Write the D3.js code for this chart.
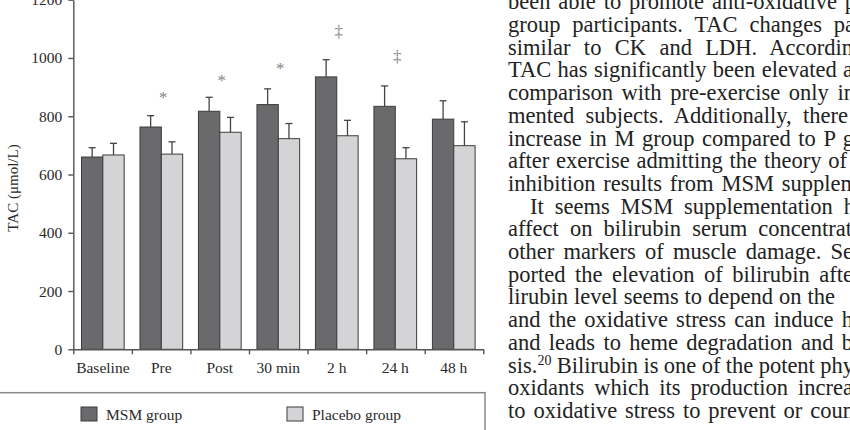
<!DOCTYPE html>
<html>
<head>
<meta charset="utf-8">
<script src="https://cdn.jsdelivr.net/npm/d3@7"></script>
<style>
  body { margin: 0; background: white; }
  svg { display: block; }
</style>
</head>
<body>
<script>
// Chart data
let categories = ['Baseline', 'Pre', 'Post', '30 min', '2 h', '24 h', '48 h'];
let series = ['MSM group', 'Placebo group'];
let msm = [660, 763, 817, 840, 935, 834, 790];
let msmSD = [32, 39, 48, 54, 59, 70, 63];
let placebo = [667, 670, 745, 723, 733, 654, 699];
let placeboSD = [40, 42, 51, 52, 53, 38, 82];
let marks = ['', '*', '*', '*', '\u2021', '\u2021', ''];
let markValues = [null, 876, 935, 976, 1090, 1005, null];
let yTicks = [0, 200, 400, 600, 800, 1000, 1200];

// Page text next to the figure
let pageLines = [
  'been able to promote anti-oxidative p',
  'group participants. TAC changes pa',
  'similar to CK and LDH. Accordin',
  'TAC has significantly been elevated a',
  'comparison with pre-exercise only in',
  'mented subjects. Additionally, there',
  'increase in M group compared to P g',
  'after exercise admitting the theory of',
  'inhibition results from MSM supplem',
  'It seems MSM supplementation h',
  'affect on bilirubin serum concentrat',
  'other markers of muscle damage. Se',
  'ported the elevation of bilirubin afte',
  'lirubin level seems to depend on the',
  'and the oxidative stress can induce h',
  'and leads to heme degradation and b',
  'sis.|20| Bilirubin is one of the potent phy',
  'oxidants which its production increa',
  'to oxidative stress to prevent or coun'
];
let lineEnds = [856, 855, 853, 853, 855, 848, 854, 847, 858, 855, 852, 853, 853, 835, 853, 853, 854, 853, 854];

let width = 850, height = 430;
let serif = '"Liberation Serif", "Times New Roman", Times, serif';

let svg = d3.select('body')
  .append('svg')
  .attr('width', width)
  .attr('height', height)
  .style('background', 'white');

// Scales
let yScale = d3.scaleLinear()
  .domain([0, 1200])
  .range([349.3, -0.3]);

let xScale = d3.scaleBand()
  .domain(categories)
  .range([73.3, 483.3])
  .paddingInner(0.27)
  .paddingOuter(0.14);

let xSub = d3.scaleBand()
  .domain(series)
  .range([0, xScale.bandwidth()]);

let slots = d3.scaleLinear()
  .domain([0, categories.length])
  .range([73.3, 483.3]);

let colors = { 'MSM group': '#6a6a6c', 'Placebo group': '#d4d4d6' };

let rows = categories.map((c, i) => ({
  cat: c,
  vals: [
    { s: 'MSM group', v: msm[i], sd: msmSD[i] },
    { s: 'Placebo group', v: placebo[i], sd: placeboSD[i] }
  ]
}));

// Bars
let groups = svg.selectAll('.grp')
  .data(rows)
  .enter()
  .append('g')
  .attr('transform', d => `translate(${xScale(d.cat)},0)`);

groups.selectAll('rect')
  .data(d => d.vals)
  .enter()
  .append('rect')
  .attr('x', d => xSub(d.s))
  .attr('y', d => yScale(d.v))
  .attr('width', xSub.bandwidth())
  .attr('height', d => yScale(0) - yScale(d.v))
  .attr('fill', d => colors[d.s])
  .attr('stroke', '#3c3c3c')
  .attr('stroke-width', 1);

// Error bars
let errs = groups.selectAll('.err')
  .data(d => d.vals)
  .enter()
  .append('g')
  .attr('stroke', '#444')
  .attr('stroke-width', 1.3);

errs.append('line')
  .attr('x1', d => xSub(d.s) + xSub.bandwidth() / 2)
  .attr('x2', d => xSub(d.s) + xSub.bandwidth() / 2)
  .attr('y1', d => yScale(d.v))
  .attr('y2', d => yScale(d.v + d.sd));

errs.append('line')
  .attr('x1', d => xSub(d.s) + xSub.bandwidth() / 2 - 3.5)
  .attr('x2', d => xSub(d.s) + xSub.bandwidth() / 2 + 3.5)
  .attr('y1', d => yScale(d.v + d.sd))
  .attr('y2', d => yScale(d.v + d.sd));

// Significance marks
svg.selectAll('.mark')
  .data(categories.filter((c, i) => marks[i] !== ''))
  .enter()
  .append('text')
  .attr('x', c => xScale(c) + xScale.bandwidth() / 2 + 2)
  .attr('y', c => yScale(markValues[categories.indexOf(c)]))
  .attr('dy', c => marks[categories.indexOf(c)] === '*' ? '0.55em' : '0.3em')
  .attr('text-anchor', 'middle')
  .style('font-family', serif)
  .style('font-size', '17px')
  .style('fill', '#858585')
  .text(c => marks[categories.indexOf(c)]);

// Axes
let yAxis = svg.append('g')
  .attr('transform', 'translate(73.3,0)')
  .call(d3.axisLeft(yScale).tickValues(yTicks).tickFormat(d3.format('d'))
    .tickSize(5).tickSizeOuter(0).tickPadding(6));

let xTicks = svg.append('g')
  .attr('transform', 'translate(0,349.3)')
  .call(d3.axisBottom(slots).tickValues(d3.range(categories.length + 1)).tickSize(5).tickSizeOuter(0).tickFormat(''));

let xAxis = svg.append('g')
  .attr('transform', 'translate(0,349.3)')
  .call(d3.axisBottom(xScale).tickSize(0).tickPadding(13));
xAxis.select('.domain').remove();

[yAxis, xTicks, xAxis].forEach(a => {
  a.selectAll('.domain, line').attr('stroke', '#555').attr('stroke-width', 1.4);
  a.selectAll('text')
    .style('font-family', serif)
    .style('font-size', '15.5px')
    .style('fill', '#2a2a2a');
});

// Axis title
svg.append('text')
  .attr('transform', 'translate(18,188) rotate(-90)')
  .attr('text-anchor', 'middle')
  .style('font-family', serif)
  .style('font-size', '15px')
  .style('fill', '#2a2a2a')
  .text('TAC (\u03bcmol/L)');

// Legend
svg.append('rect')
  .attr('x', -5)
  .attr('y', 392.7)
  .attr('width', 490)
  .attr('height', 60)
  .attr('fill', 'none')
  .attr('stroke', '#888')
  .attr('stroke-width', 1.5);

let legendX = d3.scalePoint()
  .domain(series)
  .range([81, 287]);

let legend = svg.selectAll('.leg')
  .data(series)
  .enter()
  .append('g')
  .attr('transform', d => `translate(${legendX(d)},407)`);

legend.append('rect')
  .attr('width', 16)
  .attr('height', 14)
  .attr('fill', d => colors[d])
  .attr('stroke', '#3c3c3c')
  .attr('stroke-width', 1);

legend.append('text')
  .attr('x', 25)
  .attr('y', 12.5)
  .style('font-family', serif)
  .style('font-size', '15.5px')
  .style('fill', '#2a2a2a')
  .text(d => d);

// Body text on the right, justified line by line
pageLines.forEach((line, i) => {
  let x = i === 9 ? 530 : 508;
  let t = svg.append('text')
    .attr('x', x)
    .attr('y', 9.3 + i * 22.7)
    .style('font-family', serif)
    .style('font-size', '22.5px')
    .style('fill', '#222');
  line.split('|').forEach((part, j) => {
    let sp = t.append('tspan').text(part);
    if (j === 1) sp.style('font-size', '14px').attr('dy', -8);
    if (j === 2) sp.attr('dy', 8);
  });
  let natural = t.node().getComputedTextLength();
  let spaces = line.split(' ').length - 1;
  if (spaces > 0) t.attr('word-spacing', (lineEnds[i] - x - natural) / spaces);
});
</script>
</body>
</html>
